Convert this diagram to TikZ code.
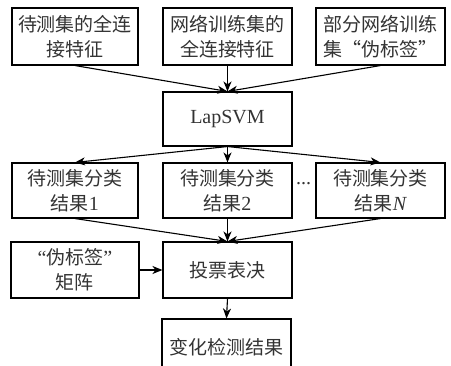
\documentclass[tikz,border=0pt]{standalone}
\usepackage{fontspec}
\setmainfont{Liberation Serif}
\newfontfamily\cjk{Noto Sans CJK SC}
\usetikzlibrary{arrows.meta}
\begin{document}
\begin{tikzpicture}[x=1pt,y=-1pt,
  box/.style={draw=black,line width=1.1pt,rectangle,inner sep=0pt,align=center,
    text=black!80,font=\fontsize{19}{25}\selectfont\cjk},
  arr/.style={line width=1.1pt,-{Stealth[length=10pt,width=8pt,inset=3pt]}}]
\useasboundingbox (0,0) rectangle (451,366);
\node[box,minimum width=126pt,minimum height=57pt] (a1) at (75,36.5) {待测集的全连\\接特征};
\node[box,minimum width=129pt,minimum height=57pt] (a2) at (227.5,36.5) {网络训练集的\\全连接特征};
\node[box,minimum width=129pt,minimum height=57pt] (a3) at (380.5,36.5) {部分网络训练\\集“伪标签”};
\node[box,minimum width=129pt,minimum height=54pt,font=\fontsize{20}{25}\selectfont] (svm) at (227.5,119) {LapSVM};
\node[box,minimum width=126pt,minimum height=55pt] (r1) at (75,190.5) {待测集分类\\结果{\rmfamily\fontsize{20}{25}\selectfont 1}};
\node[box,minimum width=129pt,minimum height=55pt] (r2) at (227.5,190.5) {待测集分类\\结果{\rmfamily\fontsize{20}{25}\selectfont 2}};
\node[box,minimum width=129pt,minimum height=55pt] (r3) at (380.5,190.5) {待测集分类\\结果{\rmfamily\itshape\fontsize{20}{25}\selectfont N}};
\node[font=\fontsize{20}{24}\selectfont,text=black!80] (dots) at (303.5,184) {...};
\node[box,minimum width=128pt,minimum height=56pt] (p) at (75,270) {{\rmfamily\fontsize{20}{25}\selectfont “}伪标签{\rmfamily\fontsize{20}{25}\selectfont ”}\\矩阵};
\node[box,minimum width=129pt,minimum height=56pt] (v) at (227.5,270) {投票表决};
\node[box,minimum width=129pt,minimum height=56pt] (f) at (226.5,347) {变化检测结果};
\draw[arr] (a1.south) -- (svm.north);
\draw[arr] (a2.south) -- (svm.north);
\draw[arr] (a3.south) -- (svm.north);
\draw[arr] (svm.south) -- (r1.north);
\draw[arr] (svm.south) -- (r2.north);
\draw[arr] (svm.south) -- (r3.north);
\draw[arr] (r1.south) -- (v.north);
\draw[arr] (r2.south) -- (v.north);
\draw[arr] (r3.south) -- (v.north);
\draw[arr] (p.east) -- (v.west);
\draw[arr] (v.south) -- (f.north);
\end{tikzpicture}
\end{document}
